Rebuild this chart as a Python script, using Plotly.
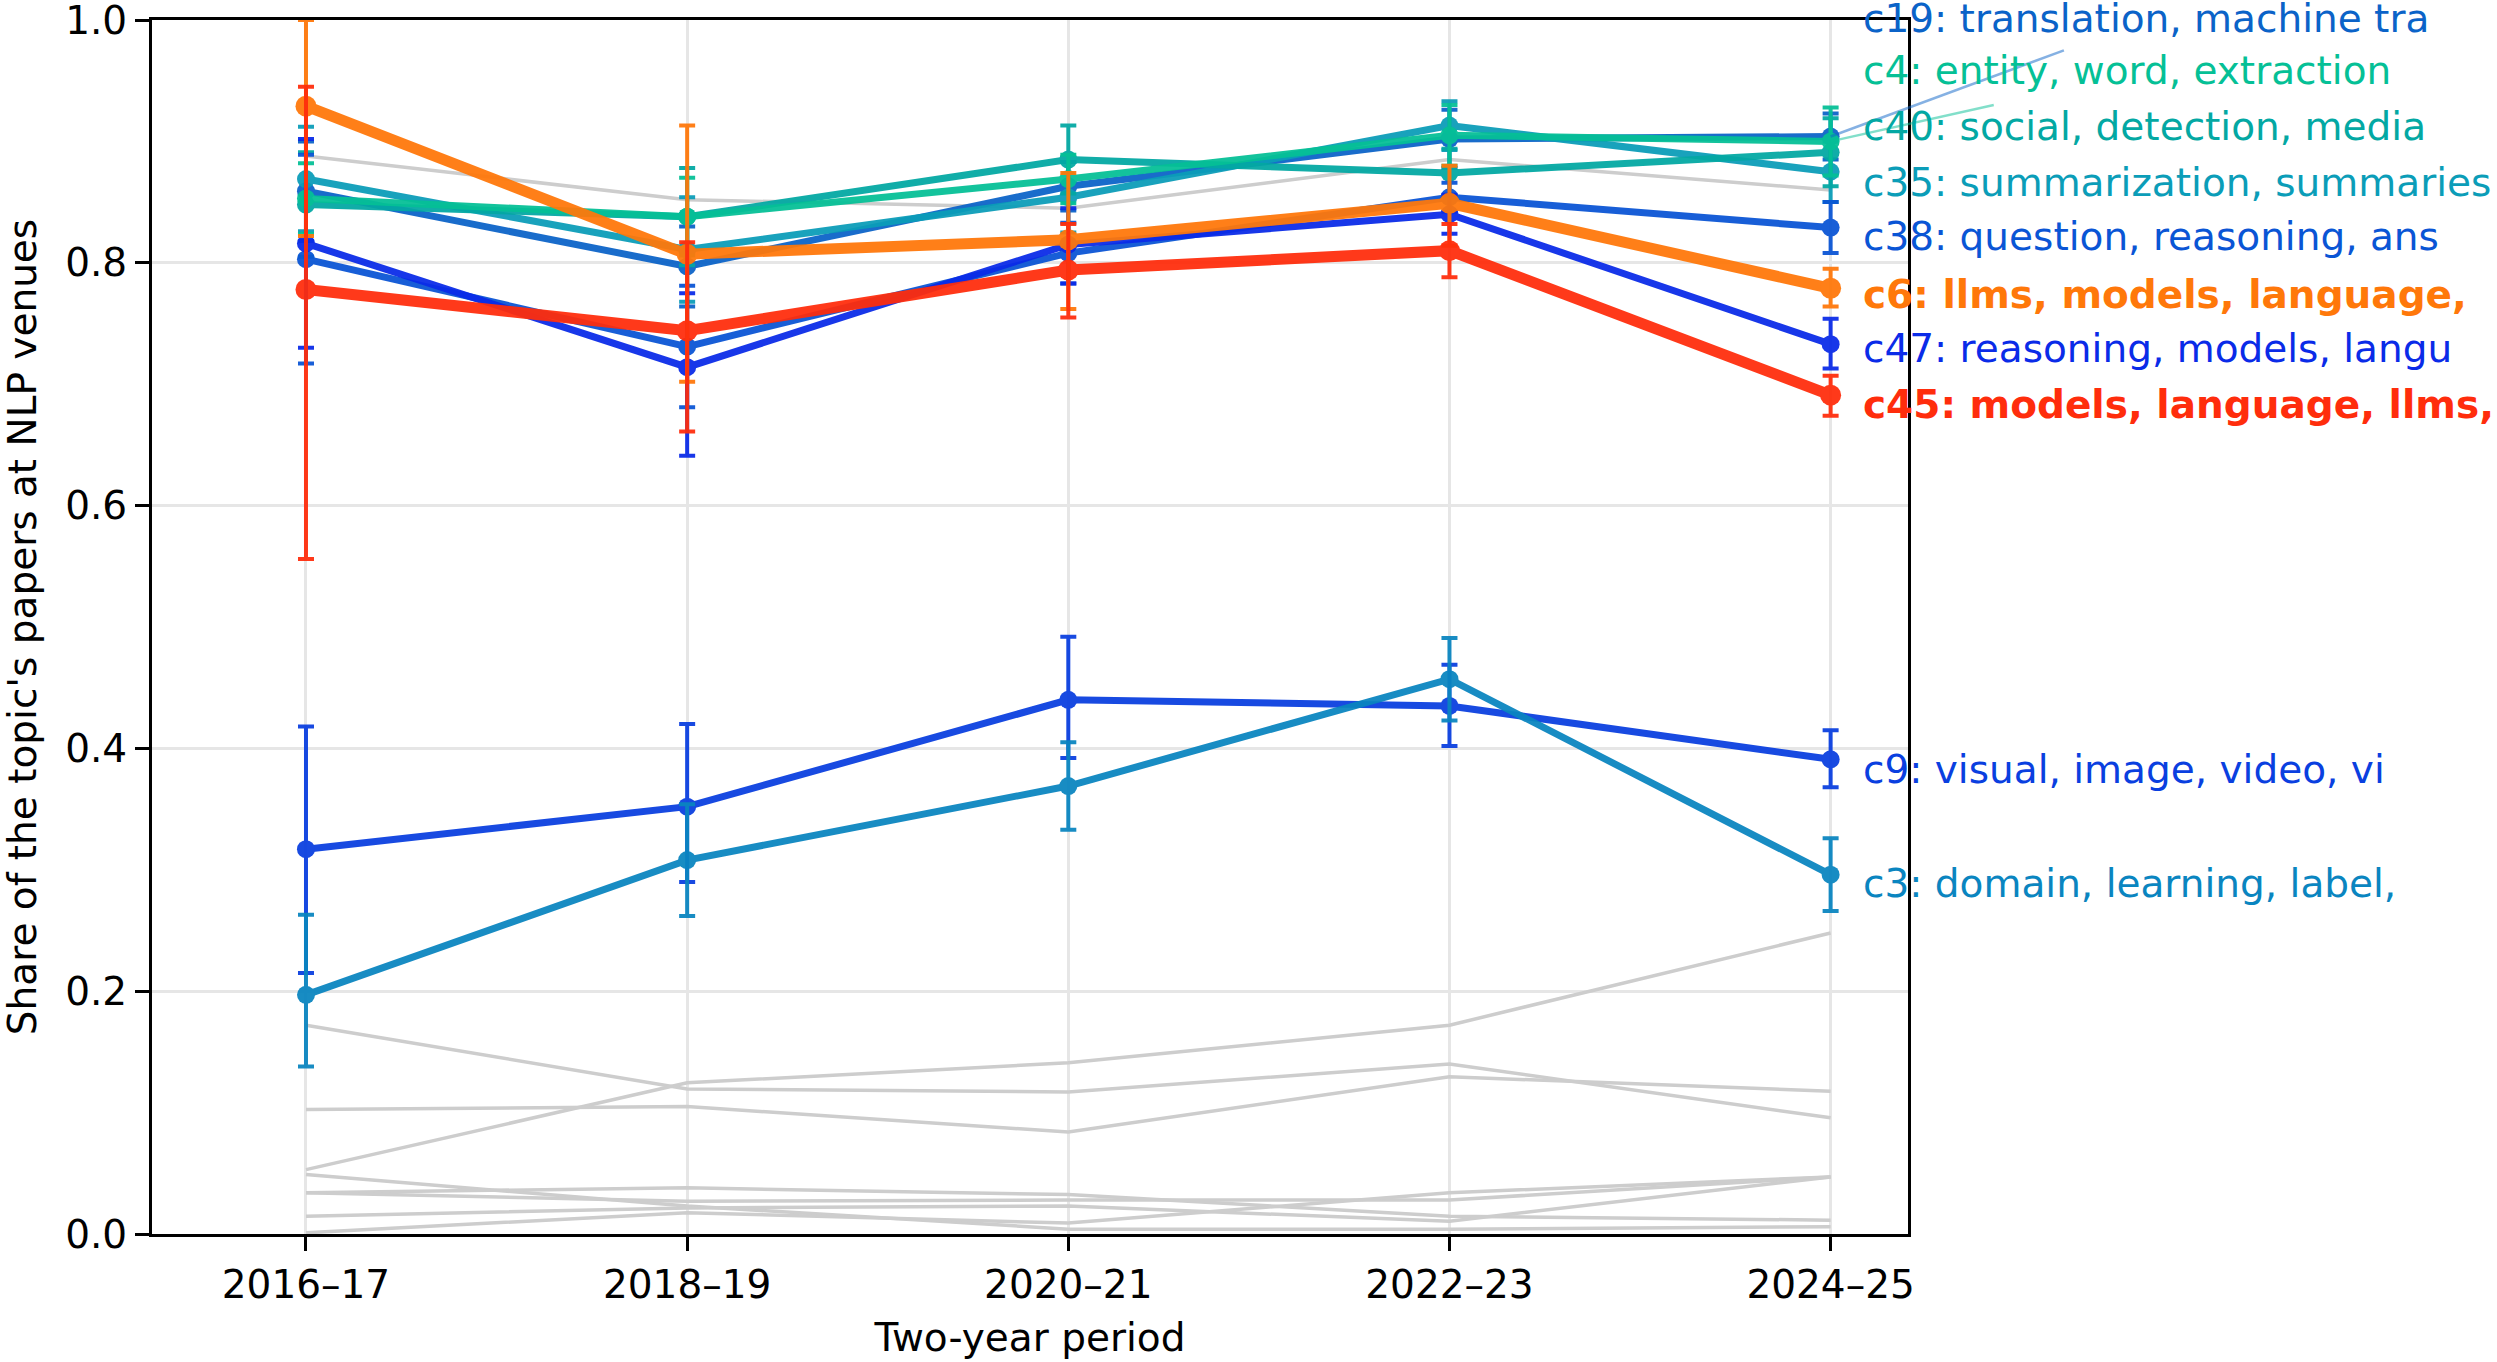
import plotly.graph_objects as go

# ---------------- data ----------------
periods = ["2016–17", "2018–19", "2020–21", "2022–23", "2024–25"]

# highlighted topics: share of the topic's papers at NLP venues
c19_share = [0.859, 0.797, 0.863, 0.902, 0.904]
c19_err = [0.041, 0.033, 0.020, 0.024, 0.019]
c4_share = [0.853, 0.838, 0.869, 0.905, 0.900]
c4_err = [0.029, 0.032, 0.020, 0.025, 0.028]
c40_share = [0.848, 0.838, 0.885, 0.874, 0.891]
c40_err = [0.043, 0.040, 0.028, 0.020, 0.028]
c35_share = [0.869, 0.811, 0.854, 0.913, 0.875]
c35_err = [0.043, 0.043, 0.029, 0.020, 0.025]
c38_share = [0.803, 0.731, 0.808, 0.854, 0.829]
c38_err = [0.086, 0.050, 0.025, 0.012, 0.021]
c6_share = [0.929, 0.807, 0.819, 0.849, 0.779]
c6_err_up = [0.071, 0.106, 0.055, 0.031, 0.016]
c6_err_down = [0.107, 0.105, 0.057, 0.035, 0.015]
c47_share = [0.816, 0.714, 0.815, 0.840, 0.733]
c47_err_up = [0.086, 0.061, 0.030, 0.016, 0.021]
c47_err_down = [0.086, 0.073, 0.032, 0.016, 0.020]
c45_share = [0.778, 0.744, 0.794, 0.810, 0.691]
c45_err_up = [0.167, 0.073, 0.038, 0.022, 0.016]
c45_err_down = [0.222, 0.083, 0.039, 0.022, 0.017]
c9_share = [0.317, 0.352, 0.440, 0.435, 0.391]
c9_err_up = [0.101, 0.068, 0.052, 0.034, 0.024]
c9_err_down = [0.102, 0.062, 0.048, 0.033, 0.023]
c3_share = [0.197, 0.308, 0.369, 0.457, 0.296]
c3_err_up = [0.066, 0.046, 0.036, 0.034, 0.030]
c3_err_down = [0.059, 0.046, 0.036, 0.034, 0.030]

# other (background) topics
other_1 = [0.888, 0.852, 0.845, 0.885, 0.860]
other_2 = [0.172, 0.1195, 0.117, 0.140, 0.0957]
other_3 = [0.053, 0.1245, 0.141, 0.172, 0.248]
other_4 = [0.1025, 0.105, 0.084, 0.1295, 0.1176]
other_5 = [0.049, 0.023, 0.004, 0.004, 0.006]
other_6 = [0.034, 0.038, 0.0325, 0.0147, 0.0114]
other_7 = [0.034, 0.027, 0.028, 0.028, 0.047]
other_8 = [0.0147, 0.0215, 0.023, 0.0105, 0.047]
other_9 = [0.001, 0.0175, 0.009, 0.034, 0.047]

topic_labels = [
    "c19: translation, machine tra",
    "c4: entity, word, extraction",
    "c40: social, detection, media",
    "c35: summarization, summaries",
    "c38: question, reasoning, ans",
    "c6: llms, models, language,",
    "c47: reasoning, models, langu",
    "c45: models, language, llms,",
    "c9: visual, image, video, vi",
    "c3: domain, learning, label,",
]
# label anchor heights (dodged so they do not overlap)
label_y = [1.001, 0.958, 0.912, 0.866, 0.822, 0.774, 0.729, 0.683, 0.383, 0.289]
label_x = 4.08

# ---------------- styling ----------------
FONT = "DejaVu Sans"
FS = 39
GREY = "#cdcdcd"
X_RANGE = [-0.404, 4.203]
Y_RANGE = [0, 1.0]

series = [
    # (label idx, values, err up, err down, color, width, marker, bold)
    (0, c19_share, c19_err, c19_err, "#0b63c8", 7, 18, False),
    (3, c35_share, c35_err, c35_err, "#0b9db8", 7, 18, False),
    (2, c40_share, c40_err, c40_err, "#03a8a3", 7, 18, False),
    (1, c4_share, c4_err, c4_err, "#05c096", 7, 18, False),
    (4, c38_share, c38_err, c38_err, "#0a55d5", 7, 18, False),
    (6, c47_share, c47_err_up, c47_err_down, "#0a2be8", 7, 18, False),
    (8, c9_share, c9_err_up, c9_err_down, "#0a3fe0", 7, 18, False),
    (9, c3_share, c3_err_up, c3_err_down, "#0a85c0", 7, 18, False),
    (5, c6_share, c6_err_up, c6_err_down, "#ff780a", 11, 21, True),
    (7, c45_share, c45_err_up, c45_err_down, "#ff2d0c", 11, 21, True),
]


def to_paper_x(xv):
    return (xv - X_RANGE[0]) / (X_RANGE[1] - X_RANGE[0])


def to_paper_y(yv):
    return (yv - Y_RANGE[0]) / (Y_RANGE[1] - Y_RANGE[0])


fig = go.Figure()

for other in [other_1, other_2, other_3, other_4, other_5, other_6, other_7, other_8, other_9]:
    fig.add_trace(go.Scatter(
        x=periods, y=other, mode="lines",
        line=dict(color=GREY, width=3.5), hoverinfo="skip", showlegend=False,
    ))

annotations = []
for idx, vals, eu, ed, color, w, ms, bold in series:
    fig.add_trace(go.Scatter(
        x=periods, y=vals, mode="lines+markers",
        line=dict(color=color, width=w),
        marker=dict(color=color, size=ms),
        opacity=0.94,
        error_y=dict(type="data", symmetric=False, array=eu, arrayminus=ed,
                     color=color, thickness=4, width=8),
        showlegend=False, name=topic_labels[idx],
    ))
    text = topic_labels[idx]
    if bold:
        text = "<b>" + text + "</b>"
    annotations.append(dict(
        x=to_paper_x(label_x), y=to_paper_y(label_y[idx]), xref="paper", yref="paper",
        text=text, showarrow=False, xanchor="left", yanchor="middle",
        font=dict(family=FONT, size=FS, color=color),
    ))

# leader lines for the two displaced labels (c19, c4)
leaders = [
    (c19_share[-1], (4.612, 0.975), "rgba(11,99,200,0.5)"),
    (c4_share[-1], (4.428, 0.930), "rgba(5,192,150,0.5)"),
]
shapes = []
for y0, (x1, y1), col in leaders:
    shapes.append(dict(type="line", xref="paper", yref="paper",
                       x0=to_paper_x(len(periods) - 1), y0=to_paper_y(y0),
                       x1=to_paper_x(x1), y1=to_paper_y(y1),
                       line=dict(color=col, width=2.5), layer="above"))

fig.update_layout(
    width=2497, height=1362,
    margin=dict(l=152, r=589, t=20, b=128),
    paper_bgcolor="white", plot_bgcolor="white",
    font=dict(family=FONT, size=FS, color="black"),
    annotations=annotations,
    shapes=shapes,
    showlegend=False,
)
fig.update_xaxes(
    type="category", range=X_RANGE, automargin=False,
    showline=True, mirror=True, linecolor="black", linewidth=3,
    ticks="outside", ticklen=14, tickwidth=3, tickcolor="black",
    showgrid=True, gridcolor="#e6e6e6", gridwidth=3, zeroline=False,
    tickfont=dict(family=FONT, size=FS, color="black"),
    title=dict(text="Two-year period", font=dict(family=FONT, size=FS, color="black"), standoff=18),
)
fig.update_yaxes(
    range=Y_RANGE, tickvals=[0, 0.2, 0.4, 0.6, 0.8, 1.0], tickformat=".1f",
    ticklabeloverflow="allow", automargin=False,
    showline=True, mirror=True, linecolor="black", linewidth=3,
    ticks="outside", ticklen=14, tickwidth=3, tickcolor="black",
    showgrid=True, gridcolor="#e6e6e6", gridwidth=3, zeroline=False,
    tickfont=dict(family=FONT, size=FS, color="black"),
    title=dict(text="Share of the topic's papers at NLP venues",
               font=dict(family=FONT, size=FS, color="black"), standoff=22),
)

fig.write_html("out.html")
